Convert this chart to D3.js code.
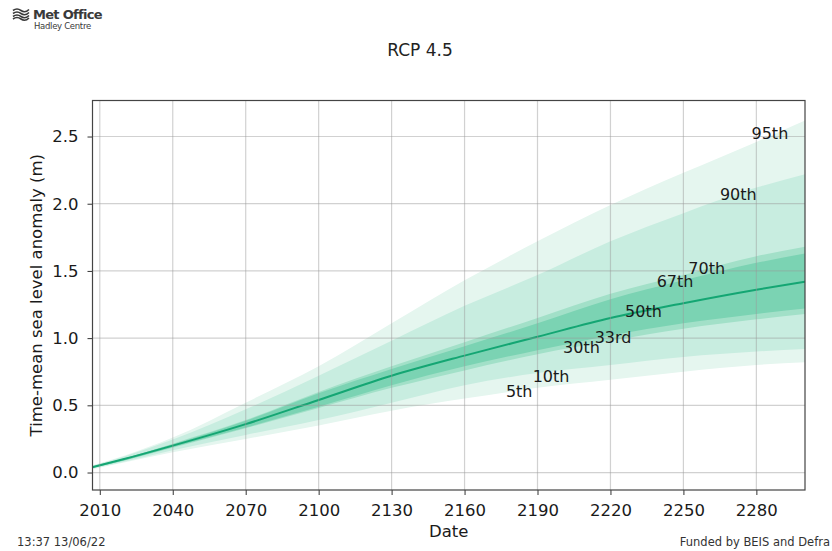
<!DOCTYPE html>
<html><head><meta charset="utf-8">
<script src="https://cdn.jsdelivr.net/npm/d3@7"></script>
<style>
html,body{margin:0;padding:0;background:#fff;}
svg{display:block;}
text{font-family:"DejaVu Sans",sans-serif;}
</style></head>
<body><svg id="c" width="832" height="551"></svg>
<script>
// ---- data ----
const years = [2007, 2020, 2040, 2070, 2100, 2130, 2160, 2190, 2220, 2250, 2280, 2300];
const p5  = [0.025, 0.075, 0.15, 0.25, 0.35, 0.46, 0.55, 0.63, 0.69, 0.75, 0.80, 0.82];
const p10 = [0.03, 0.08, 0.165, 0.28, 0.39, 0.52, 0.65, 0.74, 0.80, 0.86, 0.90, 0.92];
const p30 = [0.035, 0.09, 0.185, 0.33, 0.48, 0.63, 0.76, 0.88, 0.98, 1.07, 1.14, 1.18];
const p33 = [0.035, 0.09, 0.19, 0.335, 0.49, 0.65, 0.79, 0.91, 1.02, 1.11, 1.18, 1.22];
const p50 = [0.04, 0.10, 0.20, 0.36, 0.54, 0.72, 0.87, 1.01, 1.15, 1.26, 1.36, 1.42];
const p67 = [0.045, 0.105, 0.21, 0.385, 0.59, 0.77, 0.94, 1.11, 1.29, 1.43, 1.56, 1.63];
const p70 = [0.045, 0.105, 0.215, 0.39, 0.60, 0.79, 0.97, 1.15, 1.33, 1.47, 1.61, 1.68];
const p90 = [0.05, 0.12, 0.245, 0.47, 0.72, 0.98, 1.24, 1.47, 1.72, 1.93, 2.12, 2.22];
const p95 = [0.055, 0.125, 0.26, 0.52, 0.79, 1.11, 1.43, 1.72, 1.99, 2.23, 2.46, 2.62];

const labelNames  = ["5th", "10th", "30th", "33rd", "50th", "67th", "70th", "90th", "95th"];
const labelYears  = [2177, 2188, 2200.5, 2213.5, 2226, 2239, 2252, 2265, 2278];
const labelValues = [0.564, 0.673, 0.891, 0.961, 1.155, 1.378, 1.477, 2.03, 2.48];

const xTicks = [2010, 2040, 2070, 2100, 2130, 2160, 2190, 2220, 2250, 2280];
const yTicks = [0.0, 0.5, 1.0, 1.5, 2.0, 2.5];
const xDomain = [2007, 2300];
const yDomain = [-0.13, 2.768];

const titleText = "RCP 4.5";
const xLabel = "Date";
const yLabel = "Time-mean sea level anomaly (m)";
const timestamp = "13:37 13/06/22";
const funded = "Funded by BEIS and Defra";

// ---- drawing ----
const svg = d3.select("#c");
const L = 92.5, R = 805, T = 100.5, B = 490;
const x = d3.scaleLinear().domain(xDomain).range([L, R]);
const y = d3.scaleLinear().domain(yDomain).range([B, T]);

svg.append("clipPath").attr("id", "plotclip").append("rect")
  .attr("x", L).attr("y", T).attr("width", R - L).attr("height", B - T);
const plot = svg.append("g").attr("clip-path", "url(#plotclip)");

const band = (lo, hi) => d3.area()
  .x((d, i) => x(years[i]))
  .y0((d, i) => y(lo[i]))
  .y1((d, i) => y(hi[i]))
  .curve(d3.curveMonotoneX)(years);

const bands = [
  {lo: p5, hi: p95, c: "#e5f6ef"},
  {lo: p10, hi: p90, c: "#c8ede0"},
  {lo: p30, hi: p70, c: "#a2e0c8"},
  {lo: p33, hi: p67, c: "#7bd3b3"}
];
bands.forEach(b => plot.append("path").attr("d", band(b.lo, b.hi)).attr("fill", b.c));

// grid on top (semi transparent)
const grid = svg.append("g");
xTicks.forEach(t => grid.append("line")
  .attr("x1", x(t)).attr("x2", x(t)).attr("y1", T).attr("y2", B)
  .attr("stroke", "#9a9a9a").attr("stroke-opacity", 0.45).attr("stroke-width", 1.2));
yTicks.forEach(t => grid.append("line")
  .attr("x1", L).attr("x2", R).attr("y1", y(t)).attr("y2", y(t))
  .attr("stroke", "#9a9a9a").attr("stroke-opacity", 0.45).attr("stroke-width", 1.2));

// median line
plot.append("path")
  .attr("d", d3.line().x((d, i) => x(years[i])).y(d => y(d)).curve(d3.curveMonotoneX)(p50))
  .attr("fill", "none").attr("stroke", "#14a673").attr("stroke-width", 2);

// percentile labels
svg.append("g").selectAll("text").data(labelNames).join("text")
  .attr("x", (d, i) => x(labelYears[i]))
  .attr("y", (d, i) => y(labelValues[i]))
  .attr("font-size", 16).attr("fill", "#1a1a1a")
  .text(d => d);

// axes
const xAxis = d3.axisBottom(x).tickValues(xTicks).tickFormat(d3.format("d")).tickSize(5).tickPadding(9);
const yAxis = d3.axisLeft(y).tickValues(yTicks).tickFormat(d3.format(".1f")).tickSize(5).tickPadding(9);
const gx = svg.append("g").attr("transform", `translate(0,${B})`).call(xAxis);
const gy = svg.append("g").attr("transform", `translate(${L},0)`).call(yAxis);
[gx, gy].forEach(g => {
  g.select(".domain").remove();
  g.selectAll(".tick line").attr("stroke", "#333");
  g.selectAll(".tick text").attr("font-family", "DejaVu Sans").attr("font-size", 16.5).attr("fill", "#1a1a1a");
});
svg.append("rect").attr("x", L).attr("y", T).attr("width", R - L).attr("height", B - T)
  .attr("fill", "none").attr("stroke", "#444").attr("stroke-width", 1.2);

// axis titles and title
svg.append("text").attr("x", (L + R) / 2).attr("y", 537).attr("text-anchor", "middle")
  .attr("font-size", 16.5).attr("fill", "#1a1a1a").text(xLabel);
svg.append("text").attr("transform", `translate(42,${(T + B) / 2}) rotate(-90)`)
  .attr("text-anchor", "middle").attr("font-size", 16.5).attr("fill", "#1a1a1a").text(yLabel);
svg.append("text").attr("x", 420).attr("y", 56).attr("text-anchor", "middle")
  .attr("font-family", "Open Sans").attr("font-size", 17).attr("fill", "#222").text(titleText);

// footers
svg.append("text").attr("x", 17).attr("y", 546).attr("font-family", "Open Sans")
  .attr("font-size", 11.5).attr("fill", "#333").text(timestamp);
svg.append("text").attr("x", 830).attr("y", 546).attr("text-anchor", "end").attr("font-family", "Open Sans")
  .attr("font-size", 11.5).attr("fill", "#333").text(funded);

// logo
const logo = svg.append("g").attr("fill", "#3a3a3a");
logo.append("text").attr("x", 33).attr("y", 19).attr("font-family", "Open Sans").attr("font-weight", 700)
  .attr("font-size", 13).attr("letter-spacing", -0.7).text("Met Office");
logo.append("text").attr("x", 34).attr("y", 29).attr("font-family", "Open Sans")
  .attr("font-size", 8.5).attr("letter-spacing", -0.3).text("Hadley Centre");
const ic = svg.append("g").attr("fill", "none").attr("stroke", "#3a3a3a").attr("stroke-width", 1.6);
[9.5, 12.5, 15.5, 18].forEach(v => ic.append("path")
  .attr("d", `M13,${v + 1} q4,-3 8,0 t8,-1`));
</script></body></html>
